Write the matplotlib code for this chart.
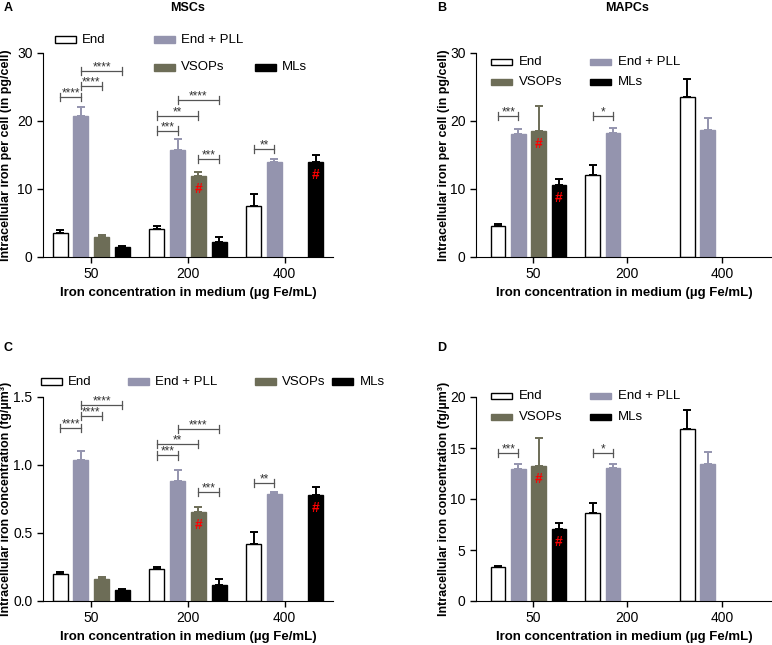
import numpy as np
import matplotlib
matplotlib.use('Agg')
import matplotlib.pyplot as plt
from matplotlib.patches import Rectangle

plt.rcParams['font.family'] = ['Liberation Sans', 'DejaVu Sans']

groups = ['50', '200', '400']
series = ['End', 'End + PLL', 'VSOPs', 'MLs']
colors = ['white', '#9494ae', '#6d6d57', 'black']
edges = ['black', '#9494ae', '#6d6d57', 'black']

# panel A: MSCs, pg/cell
a_mean = [[3.6, 4.1, 7.45], [20.7, 15.8, 14.0], [2.9, 11.9, np.nan], [1.4, 2.25, 14.0]]
a_err = [[0.4, 0.4, 1.75], [1.3, 1.6, 0.4], [0.35, 0.6, np.nan], [0.25, 0.65, 1.0]]
# panel B: MAPCs, pg/cell
b_mean = [[4.6, 12.0, 23.5], [18.1, 18.2, 18.7], [18.5, np.nan, np.nan], [10.6, np.nan, np.nan]]
b_err = [[0.2, 1.5, 2.7], [0.7, 0.7, 1.7], [3.7, np.nan, np.nan], [0.8, np.nan, np.nan]]
# panel C: MSCs, fg/um3
c_mean = [[0.20, 0.238, 0.417], [1.034, 0.88, 0.784], [0.16, 0.654, np.nan], [0.078, 0.12, 0.78]]
c_err = [[0.013, 0.012, 0.088], [0.066, 0.08, 0.02], [0.016, 0.036, np.nan], [0.01, 0.04, 0.06]]
# panel D: MAPCs, fg/um3
d_mean = [[3.33, 8.66, 16.9], [12.9, 13.0, 13.46], [13.2, np.nan, np.nan], [7.06, np.nan, np.nan]]
d_err = [[0.1, 0.98, 1.8], [0.5, 0.4, 1.1], [2.8, np.nan, np.nan], [0.62, np.nan, np.nan]]

# significance brackets: (group, bar from, bar to, height, label)
a_sig = [(0, 0, 1, 23.5, '****'), (0, 1, 2, 25.2, '****'), (0, 1, 3, 27.3, '****'),
         (1, 0, 1, 18.6, '***'), (1, 0, 2, 20.8, '**'), (1, 1, 3, 23.1, '****'),
         (1, 2, 3, 14.4, '***'), (2, 0, 1, 15.9, '**')]
b_sig = [(0, 0, 1, 20.7, '***'), (1, 0, 1, 20.7, '*')]
c_sig = [(0, 0, 1, 1.27, '****'), (0, 1, 2, 1.36, '****'), (0, 1, 3, 1.44, '****'),
         (1, 0, 1, 1.07, '***'), (1, 0, 2, 1.157, '**'), (1, 1, 3, 1.267, '****'),
         (1, 2, 3, 0.80, '***'), (2, 0, 1, 0.87, '**')]
d_sig = [(0, 0, 1, 14.5, '***'), (1, 0, 1, 14.5, '*')]

# red '#' markers: (group, bar)
a_hash = [(1, 2), (2, 3)]
b_hash = [(0, 2), (0, 3)]
c_hash = [(1, 2), (2, 3)]
d_hash = [(0, 2), (0, 3)]

ylab1 = 'Intracellular iron per cell (in pg/cell)'
ylab2 = 'Intracellular iron concentration (fg/\u00b5m\u00b3)'
xlab = 'Iron concentration in medium (\u00b5g Fe/mL)'

W, H = 772, 645
fig = plt.figure(figsize=(W / 100, H / 100), dpi=100)

step, width = 0.214, 0.155


def pos(g, i, shift):
    return g + (i - 1.5) * step + shift


def panel(rect, mean, err, sig, hashes, ymax, yticks, ylabel, xlim, shift, ylc, legend):
    ax = fig.add_axes(rect)
    x = np.arange(len(groups))
    for i in range(4):
        xs = pos(x, i, shift)
        m = np.array(mean[i])
        e = np.array(err[i])
        ax.bar(xs, m, width, color=colors[i], edgecolor=edges[i], linewidth=1, zorder=2)
        ax.errorbar(xs, m, yerr=[np.zeros_like(e), e], fmt='none', ecolor=edges[i],
                    elinewidth=1.4, capsize=3.2, capthick=1.4, zorder=1)
    h = ymax * 0.02
    for g, i, j, y, lab in sig:
        x0, x1 = pos(g, i, shift), pos(g, j, shift)
        ax.plot([x0, x1], [y, y], color='#555555', lw=0.9, zorder=3)
        ax.plot([x0, x0], [y - h, y + h], color='#555555', lw=0.9, zorder=3)
        ax.plot([x1, x1], [y - h, y + h], color='#555555', lw=0.9, zorder=3)
        ax.text((x0 + x1) / 2, y - ymax * 0.012, lab, ha='center', va='bottom',
                fontsize=8.5, color='#333333', zorder=3)
    for g, i in hashes:
        ax.annotate('#', (pos(g, i, shift), mean[i][g]), xytext=(0, -13),
                    textcoords='offset pixels', ha='center', va='center',
                    color='red', fontsize=10, fontweight='bold', zorder=4)
    ax.set_ylim(0, ymax)
    ax.set_yticks(yticks)
    ax.set_xlim(*xlim)
    ax.set_xticks(x)
    ax.set_xticklabels(groups)
    ax.spines['top'].set_visible(False)
    ax.spines['right'].set_visible(False)
    ax.tick_params(labelsize=10, length=4, width=1, direction='out')
    ax.set_ylabel(ylabel, fontsize=9, fontweight='bold')
    ax.yaxis.set_label_coords(ylc, 0.5)
    ax.set_xlabel(xlab, fontsize=9.5, fontweight='bold')
    ax.xaxis.set_label_coords(0.5, -0.145)
    for k, bx, by in legend:
        ax.add_patch(Rectangle((bx, by - 0.017), 0.072, 0.034, transform=ax.transAxes,
                               facecolor=colors[k], edgecolor=edges[k], lw=1, clip_on=False))
        ax.text(bx + 0.094, by, series[k], transform=ax.transAxes, ha='left', va='center',
                fontsize=9.5)
    return ax


def rect(l, t, w=290, h=204):
    return [l / W, (H - t - h) / H, w / W, h / H]


panel(rect(43, 53), a_mean, a_err, a_sig, a_hash, 30, [0, 10, 20, 30], ylab1,
      (-0.5, 2.5), 0, -0.108,
      [(0, 0.041, 1.064), (1, 0.383, 1.064), (2, 0.383, 0.931), (3, 0.731, 0.931)])
panel(rect(476, 53, 296), b_mean, b_err, b_sig, b_hash, 30, [0, 10, 20, 30], ylab1,
      (-0.6, 2.53), -0.045, -0.088,
      [(0, 0.051, 0.956), (1, 0.385, 0.956), (2, 0.051, 0.858), (3, 0.385, 0.858)])
panel(rect(43, 397), c_mean, c_err, c_sig, c_hash, 1.5, [0.0, 0.5, 1.0, 1.5], ylab2,
      (-0.5, 2.5), 0, -0.107,
      [(0, -0.007, 1.074), (1, 0.293, 1.074), (2, 0.731, 1.074), (3, 0.997, 1.074)])
panel(rect(476, 397, 296), d_mean, d_err, d_sig, d_hash, 20, [0, 5, 10, 15, 20], ylab2,
      (-0.6, 2.53), -0.045, -0.088,
      [(0, 0.051, 1.005), (1, 0.385, 1.005), (2, 0.051, 0.902), (3, 0.385, 0.902)])

for lab, px, py in [('A', 8, 8), ('B', 442, 8), ('C', 8, 348), ('D', 442, 348)]:
    fig.text(px / W, 1 - py / H, lab, fontsize=9, fontweight='bold', ha='center', va='center')
for lab, px in [('MSCs', 188), ('MAPCs', 627)]:
    fig.text(px / W, 1 - 8 / H, lab, fontsize=9, fontweight='bold', ha='center', va='center')

fig.savefig('out.png', dpi=100)
